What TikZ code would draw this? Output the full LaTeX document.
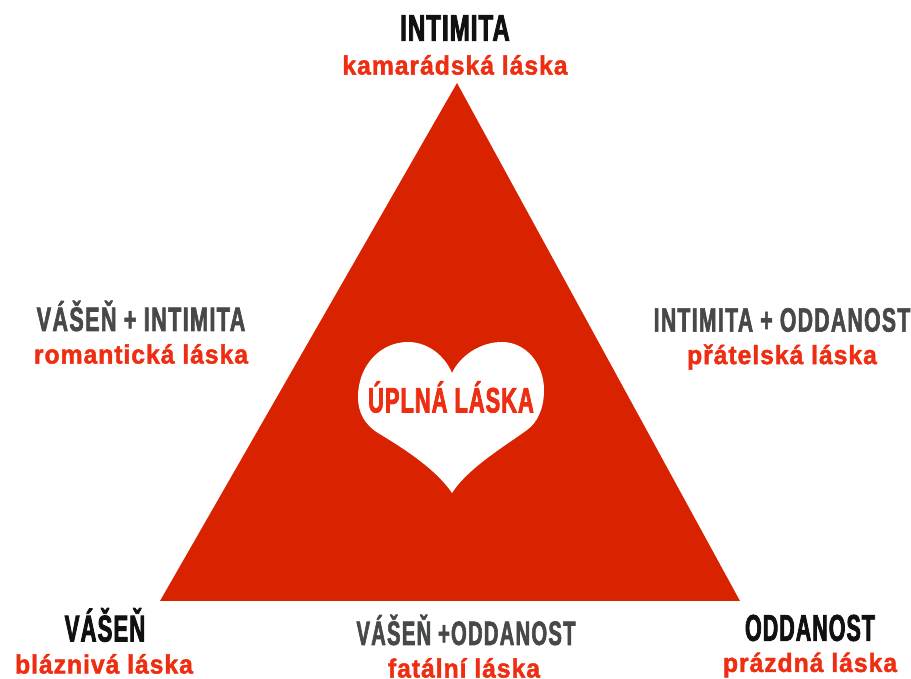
\documentclass[tikz,border=0pt]{standalone}
\usepackage{fontspec}
\usepackage{xcolor}
\usetikzlibrary{positioning}
\newfontfamily\headfont[FakeStretch=0.64,FakeBold=2.2,LetterSpace=3]{Liberation Sans Bold}
\newfontfamily\sidefont[FakeStretch=0.64,FakeBold=1.8,LetterSpace=4]{Liberation Sans Bold}
\newfontfamily\lovefont[FakeStretch=0.94,FakeBold=1.6,LetterSpace=3.5]{Liberation Sans Bold}
\definecolor{triRed}{HTML}{D92300}
\definecolor{loveRed}{HTML}{EE2E12}
\definecolor{partGray}{HTML}{46484A}
\definecolor{headBlack}{HTML}{111111}
\tikzset{
  corner/.style={font=\headfont\fontsize{10.6}{12}\selectfont,text=headBlack,inner sep=0pt},
  side/.style={font=\sidefont\fontsize{9.6}{11}\selectfont,text=partGray,inner sep=0pt},
  love/.style={font=\lovefont\fontsize{7.5}{9}\selectfont,text=loveRed,inner sep=0pt},
  squeeze/.style={transform shape,xscale=#1},
}
\begin{document}
\begin{tikzpicture}[x=0.01cm,y=-0.01cm]
\useasboundingbox (0,0) rectangle (911,679);
\fill[triRed] (457,83) -- (740,601) -- (160,601) -- cycle;
\fill[white] (452,493) .. controls (438,472) and (410,452) .. (378,433)
  .. controls (364,424) and (358,412) .. (358,397)
  .. controls (358,366) and (380,342) .. (408,342)
  .. controls (428,342) and (445,356) .. (452,373)
  .. controls (460,356) and (480,342) .. (502,342)
  .. controls (526,342) and (544,364) .. (544,390)
  .. controls (544,408) and (538,422) .. (527,430)
  .. controls (505,446) and (468,468) .. (452,493) -- cycle;
\node[corner] (intimita) at (455,28) {INTIMITA};
\node[love] (kamaradska) at (455,65) {kamarádská láska};
\node[side] (vasenintimita) at (141,316) {VÁŠEŇ + INTIMITA};
\node[love] (romanticka) at (141,354) {romantická láska};
\node[side,squeeze=0.98] (intimitaoddanost) at (782,320) {INTIMITA + ODDANOST};
\node[love] (pratelska) at (782,357) {přátelská láska};
\node[corner,squeeze=0.93] (vasen) at (105,625) {VÁŠEŇ};
\node[love] (blazniva) at (104,664) {bláznivá láska};
\node[side,squeeze=0.935] (vasenoddanost) at (466,630) {VÁŠEŇ +ODDANOST};
\node[love] (fatalni) at (464,668) {fatální láska};
\node[corner,squeeze=0.9] (oddanost) at (810,628) {ODDANOST};
\node[love] (prazdna) at (810,665) {prázdná láska};
\node[font=\headfont\fontsize{10}{12}\selectfont,text=loveRed,inner sep=0pt,squeeze=0.97] (uplna) at (451,397) {ÚPLNÁ LÁSKA};
\end{tikzpicture}
\end{document}
